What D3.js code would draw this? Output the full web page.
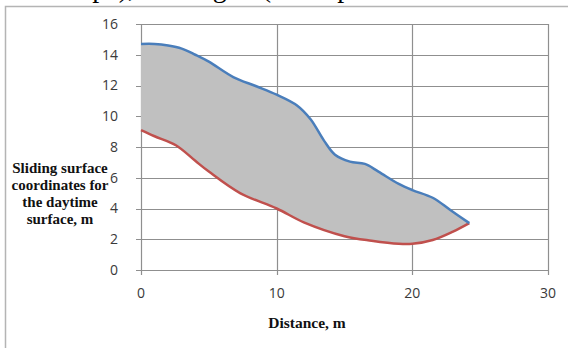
<!DOCTYPE html>
<html>
<head>
<meta charset="utf-8">
<script src="https://cdn.jsdelivr.net/npm/d3@7"></script>
<style>
body { margin: 0; background: #fff; }
svg { display: block; }
</style>
</head>
<body>
<div id="chart"></div>
<script>
// chart values
var upperX = [0, 1, 2, 3, 4, 5, 6.8, 8.5, 10, 11.5, 12.5, 13.5, 14.3, 15.4, 16.5, 17.5, 19, 20, 21.5, 22.8, 24.2];
var upperY = [14.7, 14.7, 14.6, 14.4, 14.0, 13.55, 12.55, 11.95, 11.4, 10.7, 9.8, 8.4, 7.5, 7.05, 6.9, 6.4, 5.6, 5.2, 4.7, 3.9, 3.05];
var lowerX = [0, 1, 2.6, 4, 5, 7.3, 10, 12, 15, 17, 19, 20, 21.5, 23, 24.2];
var lowerY = [9.1, 8.7, 8.1, 7.1, 6.4, 5.0, 4.0, 3.1, 2.2, 1.9, 1.7, 1.7, 1.95, 2.5, 3.05];
var xTicks = [0, 10, 20, 30];
var yTicks = [0, 2, 4, 6, 8, 10, 12, 14, 16];
var yLabelLines = ["Sliding surface", "coordinates for", "the daytime", "surface, m"];

var W = 568, H = 348;
var svg = d3.select('#chart').append('svg').attr('width', W).attr('height', H);

// cut-off caption line from the page above the chart
svg.append('text')
  .attr('x', -12).attr('y', -3)
  .attr('font-family', 'Liberation Serif')
  .attr('font-size', 28)
  .attr('fill', '#000')
  .text('of the slope), and Fig. 3 (shear pressure on');

// outer frame (only left and top visible)
svg.append('path')
  .attr('d', 'M5.5,' + H + 'V6.5H' + W)
  .attr('fill', 'none').attr('stroke', '#b4b4b4').attr('stroke-width', 1.5);

var x = d3.scaleLinear().domain([0, 30]).range([141, 548]);
var y = d3.scaleLinear().domain([0, 16]).range([270, 24]);

var g = svg.append('g');

// grid
g.selectAll('line.hg').data(yTicks).enter().append('line')
  .attr('x1', x(0) - 5).attr('x2', x(30))
  .attr('y1', function(d){ return Math.round(y(d)) + 0.5; })
  .attr('y2', function(d){ return Math.round(y(d)) + 0.5; })
  .attr('stroke', '#8f8f8f').attr('stroke-width', 1.2);
g.selectAll('line.vg').data(xTicks).enter().append('line')
  .attr('y1', y(16)).attr('y2', y(0) + 5)
  .attr('x1', function(d){ return Math.round(x(d)) + 0.5; })
  .attr('x2', function(d){ return Math.round(x(d)) + 0.5; })
  .attr('stroke', '#8f8f8f').attr('stroke-width', 1.2);

// tick labels
g.selectAll('text.yl').data(yTicks).enter().append('text')
  .attr('x', 118).attr('y', function(d){ return y(d); })
  .attr('dy', '0.35em').attr('text-anchor', 'end')
  .attr('font-family', 'Open Sans').attr('font-size', 14)
  .attr('fill', '#3a3a3a')
  .text(function(d){ return d; });
g.selectAll('text.xl').data(xTicks).enter().append('text')
  .attr('x', function(d){ return x(d); }).attr('y', 293)
  .attr('dy', '0.35em').attr('text-anchor', 'middle')
  .attr('font-family', 'Open Sans').attr('font-size', 14)
  .attr('fill', '#3a3a3a')
  .text(function(d){ return d; });

// shaded area between the two curves
var upper = upperX.map(function(v, i){ return [v, upperY[i]]; });
var lower = lowerX.map(function(v, i){ return [v, lowerY[i]]; });
var line = d3.line()
  .x(function(d){ return x(d[0]); })
  .y(function(d){ return y(d[1]); })
  .curve(d3.curveCatmullRom);
var shape = line(upper) + 'L' + line(lower.slice().reverse()).slice(1) + 'Z';
g.append('path').attr('d', shape).attr('fill', '#c0c0c0').attr('stroke', 'none');

g.append('path').attr('d', line(lower))
  .attr('fill', 'none').attr('stroke', '#c0504d').attr('stroke-width', 2.5);
g.append('path').attr('d', line(upper))
  .attr('fill', 'none').attr('stroke', '#4a7ebb').attr('stroke-width', 2.5);

// axis titles
var yl = svg.append('text')
  .attr('font-family', 'Liberation Serif').attr('font-weight', 'bold')
  .attr('font-size', 15).attr('text-anchor', 'middle').attr('fill', '#111');
yl.selectAll('tspan').data(yLabelLines).enter().append('tspan')
  .attr('x', 60).attr('y', function(d, i){ return 173 + i * 17; })
  .text(function(d){ return d; });

svg.append('text')
  .attr('x', 307).attr('y', 328)
  .attr('font-family', 'Liberation Serif').attr('font-weight', 'bold')
  .attr('font-size', 15.5).attr('text-anchor', 'middle').attr('fill', '#111')
  .text('Distance, m');
</script>
</body>
</html>
